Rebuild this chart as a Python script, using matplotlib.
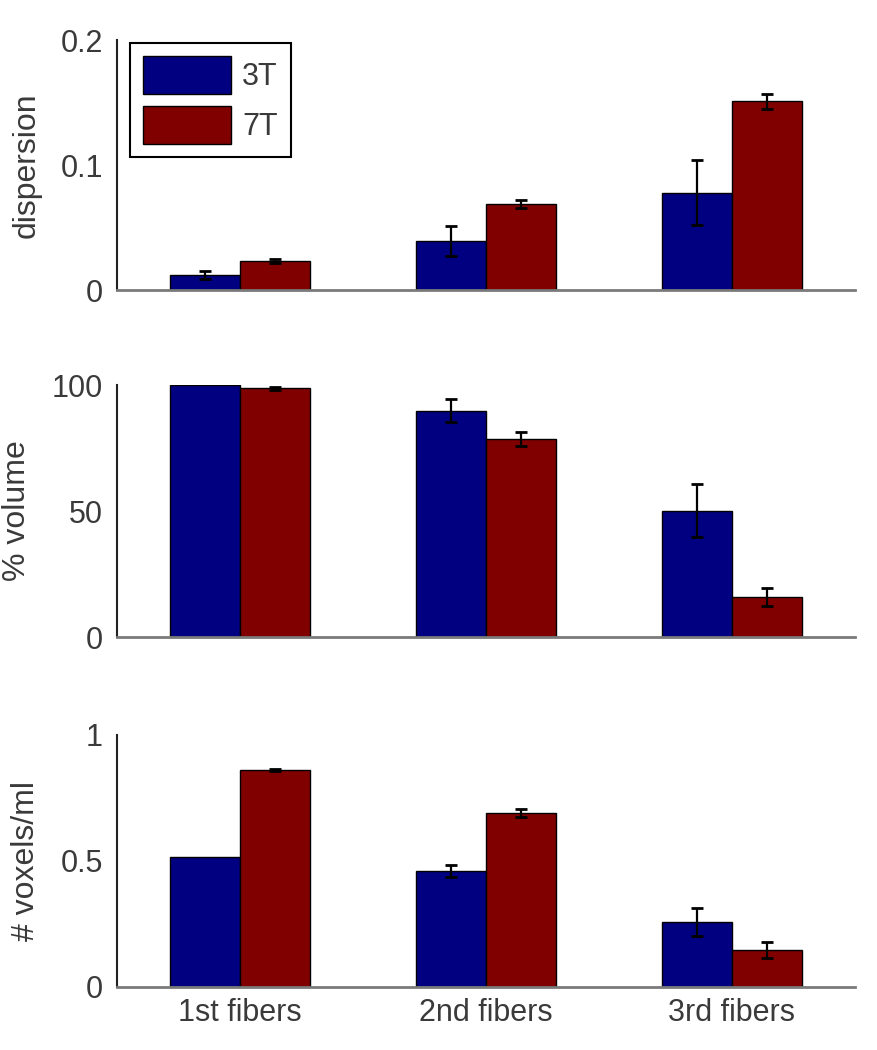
import numpy as np
import matplotlib
matplotlib.use('Agg')
import matplotlib.pyplot as plt

# data
groups = ['1st fibers', '2nd fibers', '3rd fibers']
series = ['3T', '7T']

disp_3t = [0.012, 0.039, 0.078]
disp_3t_err = [0.003, 0.012, 0.026]
disp_7t = [0.023, 0.069, 0.151]
disp_7t_err = [0.0015, 0.003, 0.006]

vol_3t = [100.0, 89.8, 50.1]
vol_3t_err = [0.0, 4.5, 10.5]
vol_7t = [98.7, 78.5, 15.9]
vol_7t_err = [0.5, 2.7, 3.6]

vox_3t = [0.514, 0.460, 0.258]
vox_3t_err = [0.0, 0.025, 0.054]
vox_7t = [0.861, 0.689, 0.147]
vox_7t_err = [0.003, 0.016, 0.030]

panels = [
    ('dispersion', disp_3t, disp_3t_err, disp_7t, disp_7t_err, [0, 0.2], [0, 0.1, 0.2], ['0', '0.1', '0.2']),
    ('% volume', vol_3t, vol_3t_err, vol_7t, vol_7t_err, [0, 100], [0, 50, 100], ['0', '50', '100']),
    ('# voxels/ml', vox_3t, vox_3t_err, vox_7t, vox_7t_err, [0, 1], [0, 0.5, 1], ['0', '0.5', '1']),
]

plt.rcParams['font.family'] = ['Liberation Sans', 'DejaVu Sans']
txt = '#3a3a3a'
blue = '#000080'
red = '#800000'

fig = plt.figure(figsize=(8.77, 10.5), dpi=100)
rects = [[0.1334, 0.7238, 0.8415, 0.2381],
         [0.1334, 0.3933, 0.8415, 0.2400],
         [0.1334, 0.0600, 0.8415, 0.2400]]


def errbars(ax, xs, ys, es):
    # skip zero-size error bars (no cap drawn in the original)
    xs = np.asarray(xs); ys = np.asarray(ys); es = np.asarray(es)
    m = es > 0
    ax.errorbar(xs[m], ys[m], yerr=es[m], fmt='none', ecolor='black',
                elinewidth=1.6, capsize=4.5, capthick=2)


x = np.arange(1, 4)
w = 0.285
for i, (lab, a, ae, b, be, yl, yt, ytl) in enumerate(panels):
    ax = fig.add_axes(rects[i])
    ax.bar(x - w/2, a, w, color=blue, edgecolor='black', linewidth=1, label=series[0])
    ax.bar(x + w/2, b, w, color=red, edgecolor='black', linewidth=1, label=series[1])
    errbars(ax, x - w/2, a, ae)
    errbars(ax, x + w/2, b, be)
    ax.set_xlim(0.5, 3.5)
    ax.set_ylim(yl)
    ax.set_yticks(yt)
    ax.set_yticklabels(ytl)
    ax.set_xticks(x)
    if i == 2:
        ax.set_xticklabels(groups)
    else:
        ax.set_xticklabels([])
    ax.tick_params(length=0, labelsize=22, colors=txt, pad=10)
    ax.tick_params(axis='x', pad=8)
    ax.set_ylabel(lab, fontsize=23, color=txt, labelpad=14)
    ax.spines['top'].set_visible(False)
    ax.spines['right'].set_visible(False)
    ax.spines['left'].set_color('#222222')
    ax.spines['left'].set_linewidth(1.5)
    ax.spines['bottom'].set_color('#7a7a7a')
    ax.spines['bottom'].set_linewidth(2)
    if i == 0:
        leg = ax.legend(loc='upper left', bbox_to_anchor=(0.0176, 0.988), borderaxespad=0,
                        fontsize=22, frameon=True, fancybox=False, framealpha=1,
                        edgecolor='black', handlelength=2.9, handleheight=1.56,
                        labelspacing=0.38, borderpad=0.42, handletextpad=0.35)
        leg.get_frame().set_linewidth(1.5)
        for t in leg.get_texts():
            t.set_color(txt)

plt.savefig('out.png', dpi=100)
